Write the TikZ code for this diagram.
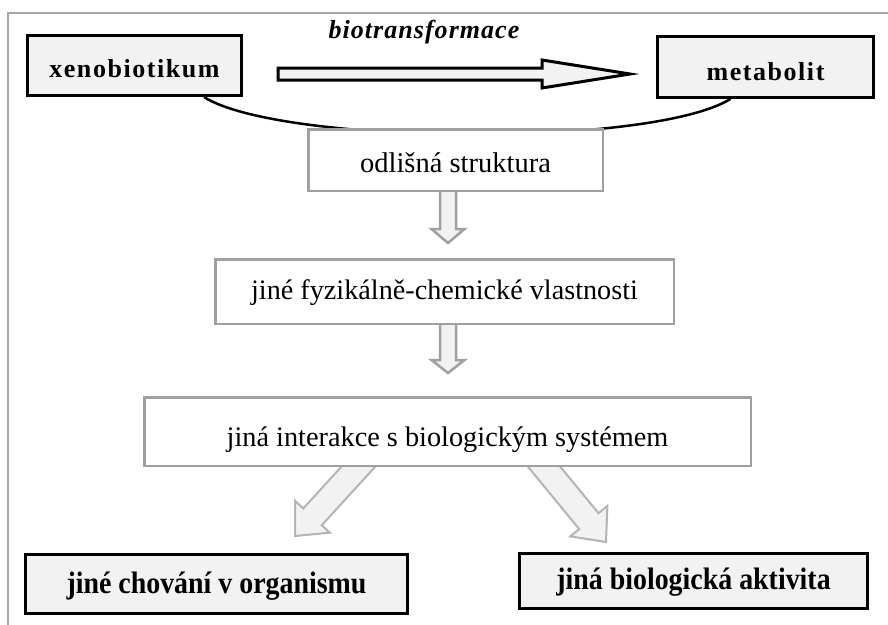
\documentclass[tikz,border=0pt]{standalone}
\usepackage{fontspec}
\usepackage{graphicx}
\setmainfont{Liberation Serif}
\usetikzlibrary{calc}
\pgfdeclarelayer{background}
\pgfsetlayers{background,main}
\definecolor{boxfill}{HTML}{F2F2F2}
\definecolor{framegray}{HTML}{A6A6A6}
\definecolor{bordgray}{HTML}{A0A0A0}
\definecolor{arrgray}{HTML}{B4B4B4}
\newcommand{\blockarrow}[6]{% style, from, to, shaft half width, head half width, head length
  \coordinate (bah) at ($(#3)!#6!(#2)$);
  \draw[#1] ($(#2)!#4!90:(#3)$) -- ($(bah)!#4!-90:(#2)$) -- ($(bah)!#5!-90:(#2)$) -- (#3)
    -- ($(bah)!#5!90:(#2)$) -- ($(bah)!#4!90:(#2)$) -- ($(#2)!#4!-90:(#3)$) -- cycle;
}
\newcommand{\narrowtxt}[1]{\scalebox{0.9}[1]{#1}}
\begin{document}
\begin{tikzpicture}[x=1pt,y=-1pt,
  boldbox/.style={draw=black, line width=3pt, fill=boxfill, inner sep=0pt, align=center, text depth=0pt,
                  font=\fontsize{26}{30}\selectfont\bfseries\addfontfeature{LetterSpace=6}},
  bottombox/.style={draw=black, line width=3pt, fill=boxfill, inner sep=0pt, align=center, text depth=0pt,
                  font=\fontsize{31}{36}\selectfont\bfseries},
  graybox/.style={draw=bordgray, line width=2.5pt, fill=white, inner sep=0pt, align=center, text depth=0pt},
  bigarrow/.style={draw=black, line width=3pt, fill=boxfill, line join=miter},
  downarrow/.style={draw=bordgray, line width=2.5pt, fill=boxfill, line join=miter},
  diagarrow/.style={draw=arrgray, line width=2pt, fill=boxfill, line join=miter}]
\useasboundingbox (0,0) rectangle (888,624);
\clip (0,0) rectangle (888,624);

% nodes
\node[boldbox, minimum width=214pt, minimum height=60pt, text height=23.6pt] (xeno) at (134.5,65.5) {xenobiotikum};
\node[boldbox, minimum width=216pt, minimum height=61pt, text height=26pt] (metab) at (765.5,67) {metabolit};
\node[inner sep=0pt, anchor=base, font=\fontsize{26}{30}\selectfont\bfseries\itshape\addfontfeature{LetterSpace=4}] (bio) at (424,38.3) {biotransformace};
\node[graybox, minimum width=294.5pt, minimum height=61.5pt, text height=24.6pt,
      font=\fontsize{28.5}{32}\selectfont] (odl) at (455.5,160) {odlišná struktura};
\node[graybox, minimum width=458.5pt, minimum height=64.5pt, text height=15.6pt,
      font=\fontsize{28.2}{32}\selectfont] (fyz) at (444.5,291.5) {jiné fyzikálně-chemické vlastnosti};
\node[graybox, minimum width=606.5pt, minimum height=68.5pt, text height=29pt,
      font=\fontsize{28.3}{32}\selectfont] (inter) at (447.5,431.5) {jiná interakce s biologickým systémem};
\node[bottombox, minimum width=382pt, minimum height=59pt, text height=18.6pt] (chov) at (216.5,584) {\narrowtxt{jiné chování v organismu}};
\node[bottombox, minimum width=348pt, minimum height=55pt, text height=16.6pt] (akt) at (693.5,581) {\narrowtxt{jiná biologická aktivita}};

% coordinates for arrow ends
\coordinate (bigS) at ($(xeno.east)+(35,8.5)$);
\coordinate (bigT) at ($(metab.west)+(-26,7)$);
\coordinate (d1S) at ($(odl.south)+(-7.5,-8)$);
\coordinate (d1T) at ($(odl.south)+(-7.5,51)$);
\coordinate (d2S) at ($(fyz.south)+(3.5,-8)$);
\coordinate (d2T) at ($(fyz.south)+(3.5,48)$);
\coordinate (lS) at ($(inter.south)+(-78.5,-12)$);
\coordinate (lT) at ($(chov.north)+(78.5,-17)$);
\coordinate (rS) at ($(inter.south)+(87,-12)$);
\coordinate (rT) at ($(akt.north)+(-87.5,-10)$);

\begin{pgfonlayer}{background}
  \draw[framegray, line width=2.5pt] (8,13) rectangle (900,640);
  \draw[black, line width=2.5pt]
    ($(xeno.south west)!0.82!(xeno.south east)$) .. controls (280,145) and (650,148) ..
    ($(metab.south west)!0.34!(metab.south east)$);
  \blockarrow{downarrow}{d1S}{d1T}{8pt}{16.5pt}{14pt}
  \blockarrow{downarrow}{d2S}{d2T}{8pt}{16.5pt}{13pt}
  \blockarrow{diagarrow}{lS}{lT}{12.5pt}{23.5pt}{26pt}
  \blockarrow{diagarrow}{rS}{rT}{12.5pt}{24pt}{27pt}
\end{pgfonlayer}
\blockarrow{bigarrow}{bigS}{bigT}{6pt}{14pt}{88pt}
\end{tikzpicture}
\end{document}
